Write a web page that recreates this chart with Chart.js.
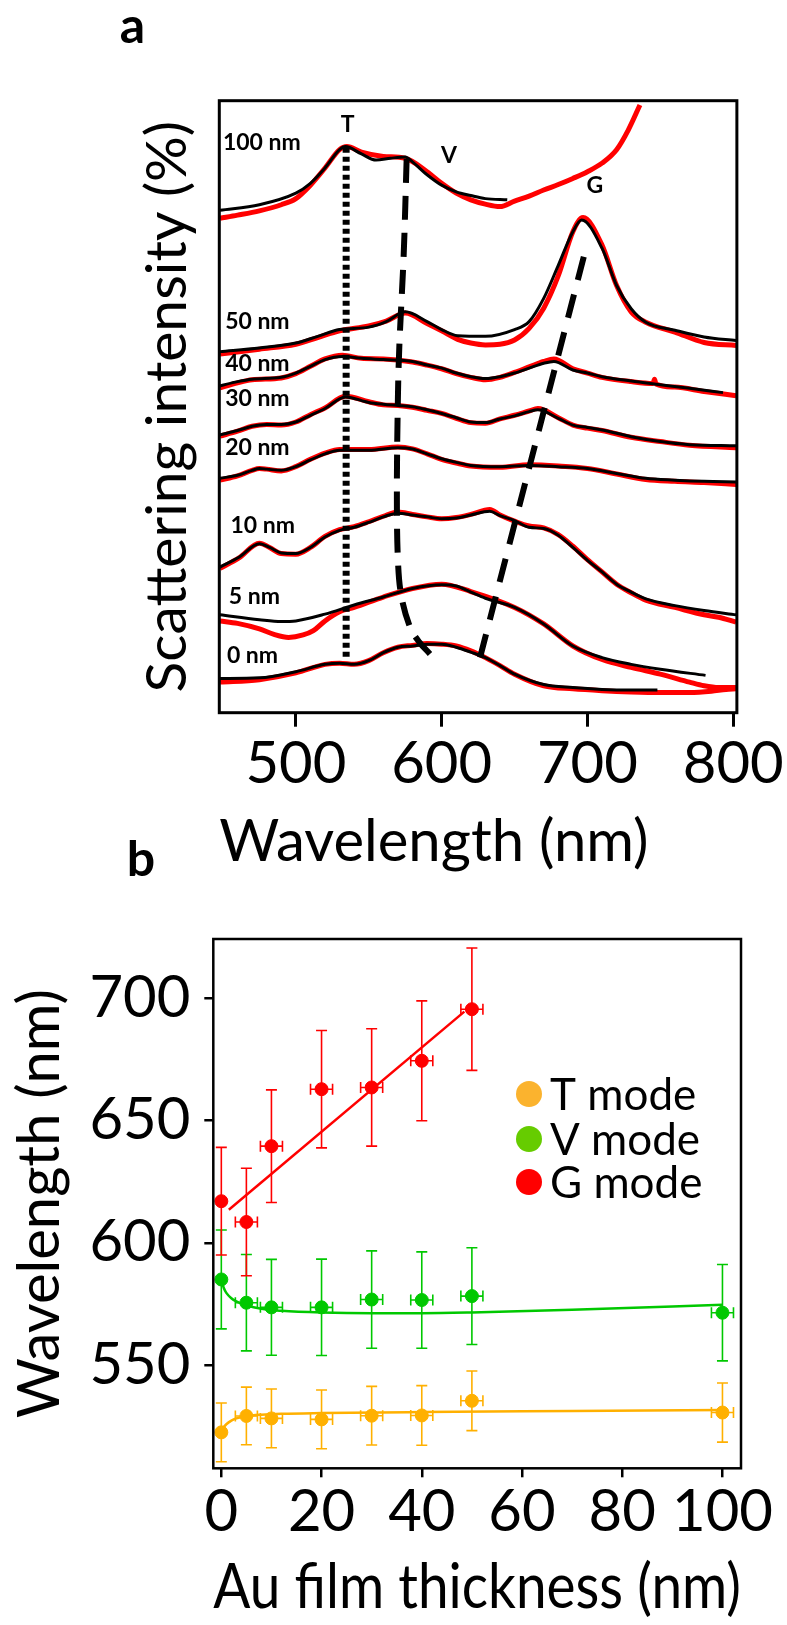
<!DOCTYPE html>
<html>
<head>
<meta charset="utf-8">
<script src="https://cdn.jsdelivr.net/npm/chart.js@4.4.1/dist/chart.umd.min.js"></script>
<style>
  html, body { margin: 0; padding: 0; background: #fff; }
  #wrap { position: relative; width: 787px; height: 1625px; }
  canvas { position: absolute; left: 0; }
  #spectra { top: 0; }
  #modes { top: 840px; }
</style>
</head>
<body>
<div id="wrap">
  <canvas id="spectra" width="787" height="880"></canvas>
  <canvas id="modes" width="787" height="785"></canvas>
</div>
<script>
// ---- panel a: scattering spectra, [wavelength nm, intensity (offset, a.u.)] ----
var raw100 = [[448,80.8],[460,81.3],[475,82.0],[490,83.0],[500,84.0],[510,86.2],[520,89.0],[530,92.0],[535,92.5],[545,91.6],[560,90.9],[575,90.6],[590,88.4],[600,86.5],[610,84.9],[620,83.8],[630,83.1],[640,82.7],[650,83.6],[660,84.4],[670,85.4],[680,86.3],[690,87.3],[700,88.4],[710,89.8],[720,92.0],[728,95.2],[736,99.3]];
var fit100 = [[448,82.1],[475,83.0],[500,84.9],[510,86.5],[520,89.0],[530,92.0],[534,92.5],[545,91.3],[555,90.3],[565,90.6],[575,90.8],[580,90.0],[590,87.9],[600,86.2],[610,85.1],[620,84.5],[630,84.0],[645,83.8]];
var raw50 = [[448,58.6],[475,59.4],[500,60.2],[515,61.3],[530,62.4],[550,63.2],[562,64.0],[575,65.3],[590,63.6],[600,62.4],[611,61.0],[620,60.4],[630,60.1],[640,60.2],[650,60.9],[660,62.8],[670,66.1],[680,71.4],[690,78.6],[697,80.9],[710,76.4],[720,69.8],[730,65.5],[740,63.8],[760,62.2],[780,60.5],[802,60.0]];
var fit50 = [[448,59.0],[475,59.6],[500,60.4],[515,61.5],[530,62.6],[550,63.0],[562,63.9],[575,65.5],[590,63.9],[600,62.6],[611,61.6],[630,61.5],[650,62.6],[660,63.9],[670,67.7],[680,73.1],[690,78.6],[696,80.5],[710,75.9],[720,69.8],[730,66.0],[740,63.8],[760,62.5],[780,61.4],[802,60.8]];
var raw40 = [[448,53.1],[460,53.9],[470,54.4],[490,54.7],[500,55.4],[510,56.6],[520,57.8],[532,58.4],[545,57.9],[560,57.8],[580,57.3],[590,56.8],[600,56.2],[610,55.4],[620,54.8],[630,54.4],[640,54.8],[650,55.6],[660,56.5],[670,57.4],[677,57.8],[690,56.2],[700,55.5],[710,54.8],[730,54.1],[745,53.8],[746,54.5],[747,53.7],[760,53.2],[780,52.5],[802,51.8]];
var fit40 = [[448,53.4],[460,54.1],[470,54.5],[490,54.8],[500,55.5],[510,56.6],[520,57.7],[532,58.2],[545,57.9],[560,57.7],[580,57.4],[590,56.8],[600,56.3],[610,55.5],[620,54.9],[630,54.6],[640,54.9],[650,55.5],[660,56.3],[670,57.1],[677,57.4],[690,56.0],[700,55.5],[710,54.9],[730,54.2],[750,53.6],[770,53.0],[793,52.3]];
var raw30 = [[448,45.2],[460,46.0],[470,46.8],[480,47.1],[490,47.0],[500,47.5],[510,48.7],[520,49.8],[534,51.7],[550,50.8],[560,50.3],[570,50.2],[580,49.9],[590,49.4],[600,48.9],[610,48.1],[620,47.4],[630,47.3],[640,48.0],[650,48.6],[660,49.3],[666,49.7],[680,48.2],[690,47.0],[700,46.5],[710,46.1],[730,45.0],[750,44.3],[770,43.7],[802,43.3]];
var fit30 = [[448,45.4],[460,46.1],[470,46.8],[480,47.1],[490,47.1],[500,47.5],[510,48.6],[520,49.7],[534,51.6],[550,50.7],[560,50.4],[570,50.2],[580,50.0],[590,49.5],[600,48.9],[610,48.2],[620,47.5],[630,47.4],[640,48.0],[650,48.5],[660,49.2],[666,49.5],[680,48.1],[690,47.0],[700,46.6],[710,46.2],[730,45.1],[750,44.3],[770,43.8],[802,43.6]];
var raw20 = [[448,38.0],[460,38.7],[470,39.6],[475,39.9],[480,39.8],[490,39.5],[500,40.2],[510,41.4],[520,42.4],[530,43.0],[550,43.0],[570,43.4],[580,43.1],[590,42.3],[600,41.4],[610,40.8],[620,40.3],[640,40.1],[660,40.5],[680,40.3],[700,39.9],[720,39.0],[740,38.1],[760,37.8],[780,37.6],[802,37.3]];
var fit20 = [[448,38.3],[460,38.8],[470,39.6],[475,39.9],[480,39.8],[490,39.6],[500,40.2],[510,41.3],[520,42.3],[530,42.9],[550,42.9],[570,43.3],[580,43.1],[590,42.3],[600,41.5],[610,40.9],[620,40.4],[640,40.2],[660,40.4],[680,40.2],[700,39.9],[720,39.1],[740,38.3],[760,38.0],[780,37.8],[802,37.7]];
var raw10 = [[448,23.6],[461,25.3],[475,27.7],[482,27.0],[490,26.0],[500,25.9],[510,27.0],[520,28.8],[530,29.9],[540,30.4],[550,31.2],[560,32.1],[570,32.8],[580,32.4],[590,32.0],[600,31.7],[610,31.9],[620,32.4],[633,33.2],[640,32.3],[650,31.3],[660,30.5],[670,30.2],[680,29.1],[690,27.2],[700,25.0],[710,23.0],[720,21.0],[730,19.6],[740,18.4],[760,17.2],[780,16.0],[790,15.6],[802,14.8]];
var fit10 = [[448,23.8],[461,25.4],[475,27.6],[482,27.0],[490,26.1],[500,26.0],[510,27.0],[520,28.7],[530,29.8],[540,30.3],[550,31.1],[560,32.0],[570,32.6],[580,32.3],[590,32.0],[600,31.7],[610,31.8],[620,32.3],[633,32.9],[640,32.2],[650,31.4],[660,30.3],[670,30.1],[680,29.0],[690,27.0],[700,24.9],[710,23.0],[720,21.0],[730,19.7],[740,18.6],[760,17.5],[780,16.7],[802,16.0]];
var raw5 = [[448,15.0],[460,14.6],[475,13.7],[485,12.8],[495,12.3],[505,12.7],[512,13.4],[520,15.0],[530,16.5],[540,17.2],[560,18.9],[580,20.3],[600,21.0],[620,19.8],[650,17.2],[670,14.5],[690,10.9],[710,8.7],[730,7.4],[750,6.3],[770,5.0],[780,4.4],[790,4.1],[802,4.1]];
var fit5 = [[448,16.0],[475,15.2],[490,14.9],[500,15.0],[520,16.1],[540,17.6],[560,18.9],[580,20.3],[600,20.9],[610,20.7],[620,19.7],[630,18.7],[650,17.2],[670,14.5],[690,10.9],[710,9.0],[730,7.9],[750,7.1],[781,6.1]];
var raw0 = [[448,5.0],[475,5.4],[500,6.5],[520,7.9],[530,8.1],[540,7.9],[550,8.5],[560,9.8],[570,10.7],[580,11.0],[590,11.3],[600,11.2],[610,10.9],[620,10.1],[630,9.0],[640,7.7],[650,6.3],[670,4.4],[690,3.9],[710,3.6],[730,3.4],[750,3.3],[770,3.3],[785,3.5],[795,3.8],[802,3.9]];
var fit0 = [[448,5.6],[475,5.7],[500,6.7],[520,7.9],[530,8.1],[540,7.9],[550,8.5],[560,9.8],[570,10.7],[580,10.9],[590,11.2],[600,11.2],[610,10.7],[620,9.9],[630,9.0],[640,7.7],[650,6.3],[670,4.6],[690,4.1],[710,3.8],[730,3.7],[748,3.7]];

// peak tracks of the T, V and G modes
var tTrack = [[534.5,92.3],[534.5,9.0]];
var vTrack = [[576,90.5],[574,75],[571,60],[570,51.4],[569.3,35],[570.2,24],[572.7,18.6],[578.8,13.7],[584.8,11.5],[592,9.6]];
var gTrack = [[697.5,74.5],[626,8.7]];

var wlTicks = [500, 600, 700, 800];
var curveLabels = [
  {text: '100 nm', x: 450, y: 93.2, align: 'left'},
  {text: '50 nm', x: 451.5, y: 63.9, align: 'left'},
  {text: '40 nm', x: 451.5, y: 57.1, align: 'left'},
  {text: '30 nm', x: 451.5, y: 51.4, align: 'left'},
  {text: '20 nm', x: 451.5, y: 43.4, align: 'left'},
  {text: '10 nm', x: 455.2, y: 30.6, align: 'left'},
  {text: '5 nm', x: 454, y: 18.9, align: 'left'},
  {text: '0 nm', x: 452.7, y: 9.3, align: 'left'},
  {text: 'T', x: 535.5, y: 96.1, align: 'center'},
  {text: 'V', x: 605, y: 91.1, align: 'center'},
  {text: 'G', x: 705, y: 86.2, align: 'center'}
];

// ---- panel b: mode wavelength vs Au film thickness ----
var thickness = [0, 5, 10, 20, 30, 40, 50, 100];
var thickErr = [0, 2.2, 2.2, 2.2, 2.2, 2.2, 2.2, 2.2];
var tMode = [522.5, 529.2, 528.2, 527.8, 529.3, 529.4, 535.4, 530.6];
var tModeErr = [12, 11.8, 12, 12, 12, 12.2, 12.2, 12.1];
var vMode = [585, 575.5, 573.6, 573.6, 576.8, 576.6, 578.2, 571.4];
var vModeErr = [20.2, 19.7, 19.6, 19.7, 19.9, 19.7, 19.8, 19.7];
var gThickness = [0, 5, 10, 20, 30, 40, 50];
var gMode = [617, 608.5, 639.5, 662.8, 663.5, 674.4, 695.5];
var gModeErr = [22, 22, 23, 24, 24, 24.5, 25];

var tFit = [[0,523.5],[1,525.8],[2,527.3],[3,528.2],[5,529.1],[8,529.7],[12,530.1],[20,530.4],[40,530.8],[70,531.2],[100,531.6]];
var vFit = [[0,585],[0.5,581.5],[1,579.5],[2,577.3],[3,576],[5,574.4],[8,573],[12,572.2],[20,571.5],[30,571.2],[40,571.2],[50,571.5],[70,572.6],[100,574.7]];
var gFit = [[1.5,613.5],[48.5,694.5]];

var thickTicks = [0, 20, 40, 60, 80, 100];
var modeTicks = [550, 600, 650, 700];
var modeNames = ['T mode', 'V mode', 'G mode'];

var RED = '#ff0000';
var ORANGE = '#ffb000';
var GREEN = '#00c800';
var legendColors = ['#fbb32e', '#66cc00', '#ff0000'];

Chart.defaults.font.family = 'Lato, "Open Sans", sans-serif';
Chart.defaults.color = '#000';

function pts(arr) {
  return arr.map(function (p) { return {x: p[0], y: p[1]}; });
}

// frame round the plot area, plus the panel letter
var framePlugin = {
  id: 'frame',
  afterDraw: function (chart, args, opts) {
    var a = chart.chartArea, ctx = chart.ctx;
    ctx.save();
    ctx.lineWidth = opts.width;
    ctx.strokeStyle = '#000';
    ctx.strokeRect(a.left, a.top, a.right - a.left, a.bottom - a.top);
    if (opts.letter) {
      ctx.font = 'bold 50px Lato';
      ctx.fillStyle = '#000';
      ctx.textAlign = 'center';
      ctx.textBaseline = 'alphabetic';
      ctx.fillText(opts.letter.text, opts.letter.x, opts.letter.y);
    }
    ctx.restore();
  }
};

// thickness labels and mode letters on the spectra
var curveLabelPlugin = {
  id: 'curveLabels',
  afterDatasetsDraw: function (chart) {
    var ctx = chart.ctx, xs = chart.scales.x, ys = chart.scales.y;
    ctx.save();
    ctx.font = 'bold 23px Lato';
    ctx.fillStyle = '#000';
    ctx.textBaseline = 'middle';
    curveLabels.forEach(function (l) {
      ctx.textAlign = l.align;
      ctx.fillText(l.text, xs.getPixelForValue(l.x), ys.getPixelForValue(l.y));
    });
    ctx.restore();
  }
};

var spectraPairs = [
  [raw100, fit100], [raw50, fit50], [raw40, fit40], [raw30, fit30],
  [raw20, fit20], [raw10, fit10], [raw5, fit5], [raw0, fit0]
];
var spectraSets = [];
spectraPairs.forEach(function (pair) {
  spectraSets.push({data: pts(pair[0]), borderColor: RED, borderWidth: 5, order: 2});
  spectraSets.push({data: pts(pair[1]), borderColor: '#000', borderWidth: 3, order: 1});
});
spectraSets.push({data: pts(tTrack), borderColor: '#000', borderWidth: 7, borderDash: [5, 4], tension: 0, cubicInterpolationMode: 'default', order: 0});
spectraSets.push({data: pts(vTrack), borderColor: '#000', borderWidth: 6, borderDash: [24, 13], tension: 0.35, cubicInterpolationMode: 'default', order: 0});
spectraSets.push({data: pts(gTrack), borderColor: '#000', borderWidth: 6, borderDash: [24, 15], tension: 0, cubicInterpolationMode: 'default', order: 0});

new Chart(document.getElementById('spectra'), {
  type: 'line',
  data: {datasets: spectraSets},
  options: {
    responsive: false,
    animation: false,
    events: [],
    layout: {padding: {top: 100.7, right: 43.7, left: 0, bottom: 0}},
    datasets: {line: {pointRadius: 0, fill: false, tension: 0.4, cubicInterpolationMode: 'monotone'}},
    plugins: {
      legend: {display: false},
      tooltip: {enabled: false},
      frame: {width: 3, letter: {text: 'a', x: 132.5, y: 43}}
    },
    scales: {
      x: {
        type: 'linear', min: 447.5, max: 802.5,
        afterBuildTicks: function (s) { s.ticks = wlTicks.map(function (v) { return {value: v}; }); },
        afterFit: function (s) { s.height = 167.3; },
        ticks: {font: {size: 58}, padding: 3, maxRotation: 0, autoSkip: false},
        grid: {drawOnChartArea: false, tickLength: 14, lineWidth: 3, color: '#000'},
        border: {display: false},
        title: {display: true, text: 'Wavelength (nm)', align: 'start', font: {size: 58}, padding: {top: 0, bottom: 2.6}}
      },
      y: {
        type: 'linear', min: 0, max: 100,
        afterFit: function (s) { s.width = 219.3; },
        ticks: {display: false},
        grid: {display: false},
        border: {display: false},
        title: {display: true, text: 'Scattering intensity (%)', font: {size: 57}, padding: {top: 133, bottom: 0}}
      }
    }
  },
  plugins: [framePlugin, curveLabelPlugin]
});

// error bars and legend for the mode plot
var errorBarPlugin = {
  id: 'errorBars',
  beforeDatasetsDraw: function (chart) {
    var ctx = chart.ctx, xs = chart.scales.x, ys = chart.scales.y;
    var groups = [
      {x: thickness, y: tMode, ey: tModeErr, color: ORANGE},
      {x: thickness, y: vMode, ey: vModeErr, color: GREEN},
      {x: gThickness, y: gMode, ey: gModeErr, color: RED}
    ];
    var cap = 5.5;
    ctx.save();
    ctx.lineWidth = 1.6;
    groups.forEach(function (g) {
      ctx.strokeStyle = g.color;
      g.x.forEach(function (t, i) {
        var px = xs.getPixelForValue(t);
        var py = ys.getPixelForValue(g.y[i]);
        var top = ys.getPixelForValue(g.y[i] + g.ey[i]);
        var bot = ys.getPixelForValue(g.y[i] - g.ey[i]);
        ctx.beginPath();
        ctx.moveTo(px, top); ctx.lineTo(px, bot);
        ctx.moveTo(px - cap, top); ctx.lineTo(px + cap, top);
        ctx.moveTo(px - cap, bot); ctx.lineTo(px + cap, bot);
        if (thickErr[i] > 0) {
          var l = xs.getPixelForValue(t - thickErr[i]);
          var r = xs.getPixelForValue(t + thickErr[i]);
          ctx.moveTo(l, py); ctx.lineTo(r, py);
          ctx.moveTo(l, py - cap); ctx.lineTo(l, py + cap);
          ctx.moveTo(r, py - cap); ctx.lineTo(r, py + cap);
        }
        ctx.stroke();
      });
    });
    ctx.restore();
  },
  afterDraw: function (chart) {
    var ctx = chart.ctx;
    ctx.save();
    ctx.font = '44px Lato';
    ctx.textAlign = 'left';
    ctx.textBaseline = 'middle';
    var rows = [254, 299, 342];
    modeNames.forEach(function (name, i) {
      ctx.fillStyle = legendColors[i];
      ctx.beginPath();
      ctx.arc(529, rows[i], 13, 0, Math.PI * 2);
      ctx.fill();
      ctx.fillStyle = '#000';
      ctx.fillText(name, 550, rows[i] + 2);
    });
    ctx.restore();
  }
};

function modePoints(xs, ys) {
  return xs.map(function (t, i) { return {x: t, y: ys[i]}; });
}

new Chart(document.getElementById('modes'), {
  type: 'scatter',
  data: {
    datasets: [
      {data: pts(tFit), showLine: true, borderColor: ORANGE, borderWidth: 2.5, pointRadius: 0, cubicInterpolationMode: 'monotone', order: 1},
      {data: pts(vFit), showLine: true, borderColor: GREEN, borderWidth: 2.5, pointRadius: 0, cubicInterpolationMode: 'monotone', order: 1},
      {data: pts(gFit), showLine: true, borderColor: RED, borderWidth: 2.5, pointRadius: 0, order: 1},
      {data: modePoints(thickness, tMode), backgroundColor: ORANGE, borderColor: ORANGE, pointRadius: 6.5, order: 0},
      {data: modePoints(thickness, vMode), backgroundColor: GREEN, borderColor: GREEN, pointRadius: 6.5, order: 0},
      {data: modePoints(gThickness, gMode), backgroundColor: RED, borderColor: RED, pointRadius: 6.5, order: 0}
    ]
  },
  options: {
    responsive: false,
    animation: false,
    events: [],
    layout: {padding: {top: 99, right: 46, left: 0, bottom: 0}},
    plugins: {
      legend: {display: false},
      tooltip: {enabled: false},
      frame: {width: 2.5, letter: {text: 'b', x: 141, y: 36}}
    },
    scales: {
      x: {
        type: 'linear', min: -1.6, max: 103.7,
        afterBuildTicks: function (s) { s.ticks = thickTicks.map(function (v) { return {value: v}; }); },
        afterFit: function (s) { s.height = 156.7; },
        ticks: {font: {size: 58}, padding: 0, maxRotation: 0, autoSkip: false},
        grid: {drawOnChartArea: false, tickLength: 9, lineWidth: 2.5, color: '#000'},
        border: {display: false},
        title: {display: true, text: 'Au film thickness (nm)', font: {size: 62}, padding: {top: 0, bottom: 0}}
      },
      y: {
        type: 'linear', min: 507.8, max: 724.2,
        afterBuildTicks: function (s) { s.ticks = modeTicks.map(function (v) { return {value: v}; }); },
        afterFit: function (s) { s.width = 213.3; },
        ticks: {font: {size: 58}, padding: 14, autoSkip: false},
        grid: {drawOnChartArea: false, tickLength: 9, lineWidth: 2.5, color: '#000'},
        border: {display: false},
        title: {display: true, text: 'Wavelength (nm)', font: {size: 58}, padding: {top: 5.2, bottom: 0}}
      }
    }
  },
  plugins: [framePlugin, errorBarPlugin]
});
</script>
</body>
</html>
